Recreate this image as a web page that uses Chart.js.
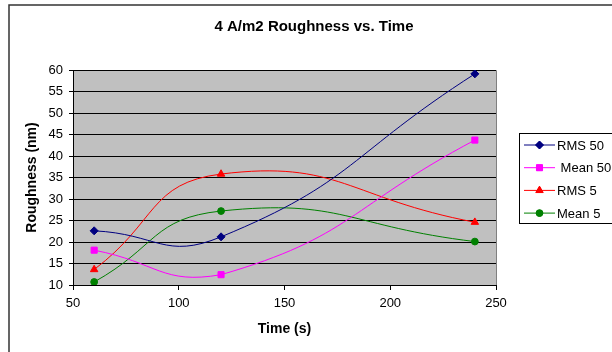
<!DOCTYPE html>
<html>
<head>
<meta charset="utf-8">
<script src="https://cdn.jsdelivr.net/npm/chart.js@4/dist/chart.umd.min.js"></script>
<style>
  body { margin: 0; background: #fff; }
  canvas { display: block; }
</style>
</head>
<body>
<canvas id="myChart" width="612" height="352"></canvas>
<script>
const times = [60, 120, 240]
const seriesNames = ['RMS 50', ' Mean 50', 'RMS 5', 'Mean 5']
const rms50 = [22.6, 21.2, 59.1]
const mean50 = [18.1, 12.4, 43.7]
const rms5 = [13.6, 35.8, 24.6]
const mean5 = [10.7, 27.2, 20.1]

const font = 'Liberation Sans, Arial, sans-serif'

const colors = ['#000080', '#ff00ff', '#ff0000', '#008000']
const markers = ['rectRot', 'rect', 'triangle', 'circle']
const radii = [4, 4.3, 4.3, 3.4]

const toPoints = ys => ys.map((y, i) => ({ x: times[i], y }))

const datasets = [rms50, mean50, rms5, mean5].map((ys, i) => ({
  label: seriesNames[i],
  data: toPoints(ys),
  borderColor: colors[i],
  backgroundColor: colors[i],
  borderWidth: 1,
  pointStyle: markers[i],
  pointRadius: radii[i],
  pointBorderWidth: 1,
  tension: 0.5
}))

// plot background, outer frame, title and the legend box
const excelLook = {
  id: 'excelLook',
  beforeDraw(chart) {
    const { ctx, chartArea: a } = chart
    ctx.save()
    ctx.fillStyle = '#ffffff'
    ctx.fillRect(0, 0, chart.width, chart.height)
    ctx.fillStyle = '#c0c0c0'
    ctx.fillRect(a.left, a.top, a.right - a.left, a.bottom - a.top)
    ctx.strokeStyle = '#808080'
    ctx.lineWidth = 1
    ctx.beginPath()
    ctx.moveTo(a.left, a.top + 0.5)
    ctx.lineTo(a.right + 0.5, a.top + 0.5)
    ctx.lineTo(a.right + 0.5, a.bottom)
    ctx.stroke()
    ctx.restore()
  },
  afterDraw(chart) {
    const { ctx } = chart
    ctx.save()
    // chart frame (runs off the right and bottom of the picture)
    ctx.strokeStyle = '#333333'
    ctx.lineWidth = 1.5
    ctx.beginPath()
    ctx.moveTo(9, chart.height)
    ctx.lineTo(9, 5)
    ctx.lineTo(chart.width, 5)
    ctx.stroke()

    ctx.fillStyle = '#000'
    ctx.font = 'bold 15px ' + font
    ctx.textAlign = 'center'
    ctx.textBaseline = 'alphabetic'
    ctx.fillText('4 A/m2 Roughness vs. Time', 314, 31)

    // legend
    ctx.fillStyle = '#fff'
    ctx.fillRect(519, 133, 100, 90)
    ctx.strokeStyle = '#000'
    ctx.lineWidth = 1
    ctx.strokeRect(519.5, 133.5, 100, 90)
    ctx.font = '13px ' + font
    ctx.textAlign = 'left'
    ctx.textBaseline = 'middle'
    chart.data.datasets.forEach((ds, i) => {
      const y = 145 + i * 22.7
      ctx.strokeStyle = ds.borderColor
      ctx.beginPath()
      ctx.moveTo(524, y)
      ctx.lineTo(555, y)
      ctx.stroke()
      ctx.fillStyle = ds.backgroundColor
      Chart.helpers.drawPoint(ctx, {
        pointStyle: ds.pointStyle, radius: ds.pointRadius, rotation: 0, borderWidth: 1
      }, 539.5, y)
      ctx.fill()
      ctx.fillStyle = '#000'
      ctx.fillText(ds.label, 557, y + 1)
    })
    ctx.restore()
  }
}

const ctx = document.getElementById('myChart').getContext('2d')
new Chart(ctx, {
  type: 'line',
  data: { datasets },
  plugins: [excelLook],
  options: {
    responsive: false,
    animation: false,
    layout: { padding: { top: 70, right: 116, left: 0, bottom: 0 } },
    plugins: {
      legend: { display: false },
      tooltip: { enabled: false }
    },
    scales: {
      x: {
        type: 'linear',
        min: 50,
        max: 250,
        afterFit: s => { s.height = 67 },
        ticks: { stepSize: 50, padding: 6, color: '#000', font: { family: font, size: 13 } },
        grid: { drawOnChartArea: false, drawTicks: true, tickLength: 5, color: '#000' },
        border: { color: '#000' },
        title: {
          display: true, text: 'Time (s)', color: '#000',
          font: { family: font, size: 14, weight: 'bold' },
          padding: { top: 0, bottom: 14 }
        }
      },
      y: {
        min: 10,
        max: 60,
        afterFit: s => { s.width = 73 },
        ticks: { stepSize: 5, padding: 6, color: '#000', font: { family: font, size: 13 } },
        grid: { color: '#000', tickLength: 4 },
        border: { color: '#000' },
        title: {
          display: true, text: 'Roughness (nm)', color: '#000',
          font: { family: font, size: 14, weight: 'bold' },
          padding: { top: 24, bottom: 0 }
        }
      }
    }
  }
})
</script>
</body>
</html>
